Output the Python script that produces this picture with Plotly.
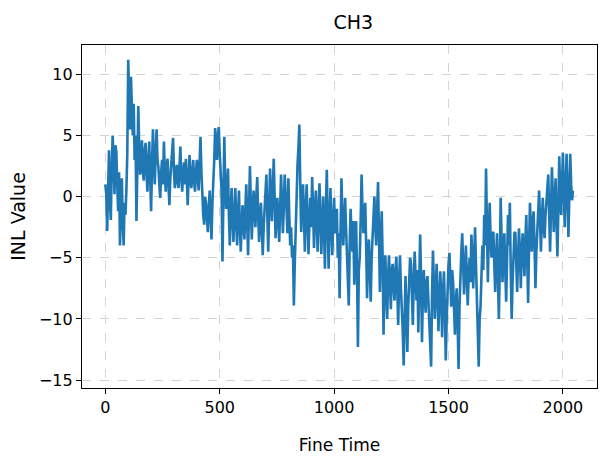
import plotly.graph_objects as go

title_text = "CH3"
x_label = "Fine Time"
y_label = "INL Value"
step = 4

inl_values = [
    1.0, 0.2, -2.8, 1.5, 3.8, -0.5, -1.9, 2.5, 5.0, 3.0, 0.2, 4.2, 3.7, 1.0, -1.2, 2.0,
    -4.0, -1.0, 1.5, -2.0, -4.0, -0.5, -1.5, 0.5, 3.6, 11.2, 8.0, 5.5, 9.8, 7.0, 5.0, 7.6,
    3.0, 5.0, -2.0, 2.5, 7.4, 4.0, 1.8, 3.5, 4.6, 2.0, 1.3, 3.8, 4.4, 2.0, 0.4, 3.0,
    4.5, 1.5, -1.2, 2.5, 5.5, 3.0, 1.0, 3.5, 5.5, 3.0, 2.4, 1.0, -0.1, 2.0, 3.0, 1.0,
    4.5, 2.0, 0.4, 2.5, 3.1, 1.0, -0.7, 1.5, 2.5, 3.5, 4.8, 2.0, 0.7, 1.8, 2.6, 1.2,
    0.7, 2.5, 4.1, 1.5, 0.4, 2.0, 2.8, 1.0, 3.1, 1.5, -0.7, 1.5, 3.4, 1.5, 0.7, 2.0,
    3.0, 1.2, 0.4, 2.0, 3.0, 1.5, 0.5, 2.8, 4.9, 2.0, -0.1, -1.5, -2.3, 0.0, -0.5, -1.8,
    -2.9, -1.0, 0.5, -1.5, -3.5, -0.5, 1.0, 3.0, 5.6, 4.0, 3.0, 5.0, 5.7, 3.5, 2.0, 0.5,
    -5.3, -1.0, 4.9, 1.0, -1.0, 0.5, 2.3, -1.5, -4.0, -1.0, 0.7, -2.0, -3.7, -1.5, 0.7, -2.0,
    -4.0, -1.5, 0.5, -2.5, -4.5, -2.0, -0.7, -2.5, -3.5, -1.0, 1.0, -2.0, -4.8, -1.0, 2.5, -0.5,
    -3.5, -1.5, 0.5, -1.0, -2.5, 0.0, 1.6, -1.5, -3.7, -2.0, -0.5, -2.5, -4.8, -2.5, -1.0, 0.5,
    1.8, -1.5, -4.5, -1.0, 2.3, 0.0, -2.0, 0.5, 3.1, 0.0, -3.4, -1.5, -0.1, -2.0, -3.7, -1.0,
    1.8, -0.5, -3.0, -1.0, 1.8, 0.0, -1.0, -3.0, 1.5, -1.5, -4.0, -2.5, -5.0, -4.0, -8.9, -5.5,
    -2.0, 0.5, 2.6, 4.0, 5.9, 1.0, -2.9, -0.5, 1.0, -1.5, -4.5, -1.0, 1.0, -2.0, -4.7, -2.0,
    -0.1, -2.5, 1.6, -1.0, -4.2, -1.5, 0.5, -2.0, -4.5, -1.0, 1.1, -2.0, -4.7, -2.0, 0.0, -3.0,
    -5.9, -1.0, 2.2, -2.0, -5.9, -2.0, 0.7, -2.5, -4.8, -2.0, -0.1, -3.0, -2.6, -1.0, -5.0, -3.0,
    -8.3, -3.0, 1.5, -1.5, -4.0, -2.0, -0.1, -2.5, -4.2, -6.0, -8.9, -4.0, -1.0, -3.0, -4.5, -2.0,
    -7.2, -4.5, -2.0, -6.0, -12.3, -6.0, -5.0, -2.0, 1.8, -1.0, -3.0, -1.5, -0.5, -4.0, -8.3, -5.0,
    -3.5, -6.0, -8.6, -5.0, -3.1, -1.5, 0.0, -2.5, -4.0, -1.0, 1.2, -3.0, -7.8, -4.0, -1.2, -5.0,
    -11.3, -7.0, -4.8, -8.0, -10.0, -6.5, -4.8, -7.0, -9.2, -6.0, -5.5, -7.5, -8.5, -6.0, -4.9, -7.5,
    -10.5, -7.0, -4.8, -7.5, -9.0, -11.0, -13.8, -9.0, -6.5, -9.5, -12.7, -9.0, -7.0, -5.0, -5.5, -8.0,
    -10.5, -7.0, -4.5, -6.5, -8.5, -6.0, -11.1, -7.0, -3.1, -6.5, -11.9, -8.0, -6.0, -8.0, -9.5, -7.0,
    -6.5, -8.5, -10.0, -11.5, -13.9, -8.0, -4.4, -7.0, -10.0, -8.0, -5.5, -8.0, -11.0, -8.5, -6.1, -8.0,
    -11.5, -8.0, -6.1, -9.0, -13.4, -10.0, -7.0, -5.5, -4.6, -7.0, -9.0, -6.0, -7.0, -9.0, -11.3, -8.5,
    -7.5, -10.5, -14.1, -9.0, -6.0, -4.5, -3.0, -5.5, -8.0, -6.0, -4.0, -6.5, -8.9, -6.5, -5.0, -7.0,
    -3.1, -5.0, -7.5, -5.0, -2.5, -5.5, -8.0, -11.0, -13.9, -10.0, -9.0, -6.5, -4.0, -6.0, -1.5, -4.0,
    2.3, -2.5, -7.0, -3.0, -0.5, -3.5, -5.0, -3.0, -2.9, -5.5, -7.8, -5.0, -3.0, -6.5, -10.0, -6.0,
    -0.1, -3.5, -7.0, -4.5, -3.0, -6.0, -8.6, -5.0, -1.5, -4.0, -0.5, -6.0, -10.0, -7.0, -5.0, -3.0,
    -2.9, -5.5, -7.8, -5.0, -2.6, -4.5, -7.5, -4.5, -3.0, -5.0, -6.5, -3.5, -1.5, -5.0, -8.7, -4.0,
    -0.5, -2.5, -4.5, -2.0, -1.2, -4.0, -7.5, -4.5, -3.0, -1.0, 0.5, -2.0, -4.5, -2.0, -0.1, -2.5,
    -3.4, -1.5, -0.5, 0.5, 1.8, -1.5, -4.5, -1.0, 2.4, 0.0, -2.9, -0.5, 1.5, -2.0, -4.9, -1.0,
    3.3, 0.5, -1.5, 1.0, 3.6, 0.5, -2.5, 0.5, 3.5, 0.5, -3.3, 0.0, 3.5, 1.0, -0.3, 0.5,
]
fine_time = list(range(0, len(inl_values) * step, step))

x_ticks = [0, 500, 1000, 1500, 2000]
y_ticks = [-15, -10, -5, 0, 5, 10]
y_tick_text = ["\u221215", "\u221210", "\u22125", "0", "5", "10"]

fig = go.Figure()
fig.add_trace(go.Scatter(
    x=fine_time, y=inl_values, mode="lines",
    line=dict(color="#1f77b4", width=2.6),
    showlegend=False,
))

axis_common = dict(
    showline=True, linecolor="black", linewidth=1.2, mirror=True,
    ticks="outside", ticklen=5, tickcolor="black", tickwidth=1,
    showgrid=True, gridcolor="#d4d4d4", griddash="dash", gridwidth=1,
    zeroline=False, automargin=False,
    tickfont=dict(family="DejaVu Sans", size=16, color="black"),
)

fig.update_layout(
    width=604, height=464,
    margin=dict(l=82, r=7, t=45, b=76),
    paper_bgcolor="white", plot_bgcolor="white",
    font=dict(family="DejaVu Sans", color="black"),
    title=dict(text=title_text, x=0.585, xanchor="center", y=0.952, yanchor="middle",
               font=dict(family="DejaVu Sans", size=19, color="black")),
    xaxis=dict(range=[-102, 2149], tickvals=x_ticks,
               title=dict(text=x_label, font=dict(size=17), standoff=22), **axis_common),
    yaxis=dict(range=[-15.65, 12.4], tickvals=y_ticks, ticktext=y_tick_text,
               title=dict(text=y_label, font=dict(size=19), standoff=8), **axis_common),
)

fig.write_html("out.html", config={"displayModeBar": False},
               post_script="document.body.style.margin='0px';")
